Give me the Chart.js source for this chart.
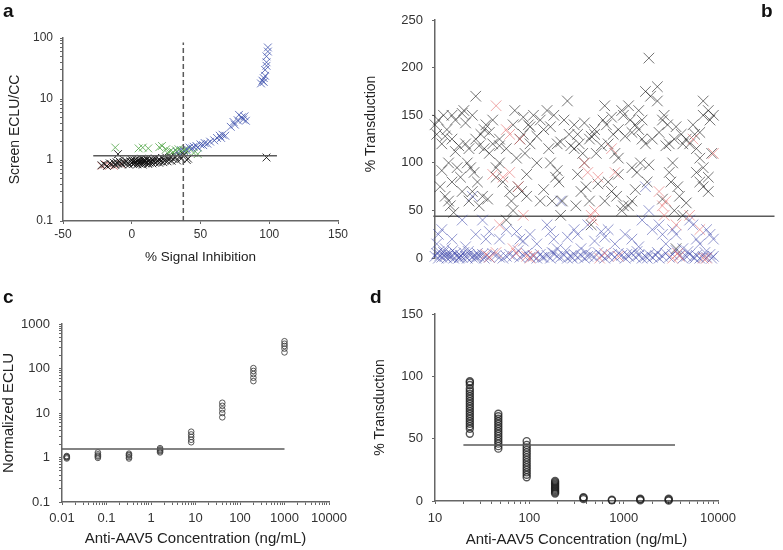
<!DOCTYPE html>
<html>
<head>
<meta charset="utf-8">
<script src="https://cdn.jsdelivr.net/npm/chart.js@4.4.1/dist/chart.umd.min.js"></script>
<style>
  body { margin: 0; background: #fff; }
  #wrap { position: relative; width: 783px; height: 550px; overflow: hidden; background: #fff; font-family: "Liberation Sans", Arial, sans-serif; }
  canvas { position: absolute; }
  .lbl { position: absolute; font-weight: bold; font-size: 19px; color: #111; line-height: 1; }
</style>
</head>
<body>
<div id="wrap">
  <canvas id="chartA" width="390" height="275" style="left:0;top:0"></canvas>
  <canvas id="chartB" width="433" height="275" style="left:350px;top:0"></canvas>
  <canvas id="chartC" width="365" height="275" style="left:0;top:275px"></canvas>
  <canvas id="chartD" width="418" height="275" style="left:365px;top:275px"></canvas>
  <div class="lbl" style="left:3px;top:1px">a</div>
  <div class="lbl" style="left:761px;top:1px">b</div>
  <div class="lbl" style="left:3px;top:287px">c</div>
  <div class="lbl" style="left:370px;top:287px">d</div>
</div>
<script>
// ---------------- DATA ----------------
// panel a : % signal inhibition vs screen ECLU/CC
const aBlack = [[-22,0.82],[-20,0.85],[-18,0.8],[-16,0.88],[-15,0.85],[-13,0.9],[-12,0.83],[-11,0.92],[-10,0.87],[-10,1.25],
  [-9,0.95],[-8,0.9],[-7,0.85],[-6,0.93],[-5,0.88],[-4,0.96],[-3,0.9],[-2,0.84],[-1,0.95],[0,0.9],[0,1.0],[1,0.86],[1,0.94],
  [2,0.98],[2,0.88],[3,0.92],[3,1.02],[4,0.85],[4,0.95],[5,0.9],[5,1.0],[6,0.93],[6,0.87],[7,0.97],[7,1.05],[8,0.9],[8,0.84],
  [9,0.95],[9,1.0],[10,0.88],[10,0.97],[11,0.92],[11,1.04],[12,0.86],[12,0.95],[13,1.0],[13,0.9],[14,0.94],[15,0.88],[15,1.02],
  [16,0.96],[17,0.9],[17,1.06],[18,0.93],[19,0.98],[20,0.9],[20,1.03],[21,0.95],[22,1.08],[23,0.92],[24,0.98],[25,1.1],[26,0.95],
  [27,1.02],[28,1.12],[29,0.97],[30,1.05],[32,1.1],[33,0.98],[35,1.15],[36,1.05],[38,1.2],[40,1.0],[41,1.05],[98,1.1]];
const aRed = [[-22,0.8],[-19,0.84],[-16,0.82],[-13,0.8],[-8,0.86]];
const aGreen = [[-12,1.6],[5,1.55],[8,1.6],[12,1.55],[20,1.62],[22,1.7],[25,1.5],[26,1.3],[28,1.4],[30,1.35],[32,1.45],
  [34,1.5],[36,1.4],[38,1.45],[40,1.4],[45,1.3],[48,1.25]];
const aBlue = [[33,1.35],[36,1.45],[38,1.4],[40,1.5],[42,1.6],[44,1.55],[45,1.65],[47,1.7],[48,1.6],[50,1.8],[52,1.75],
  [53,1.9],[55,1.85],[57,2.0],[60,2.1],[62,2.3],[64,2.5],[65,2.3],[66,2.6],[68,2.5],[72,3.5],[74,4.2],[75,3.8],[77,4.5],
  [78,5.5],[80,5.0],[81,4.6],[82,5.2],[83,4.4],[94,18],[95,20],[96,22],[96,19],[97,24],[97,30],[98,35],[98,40],[98,50],
  [99,60],[99,70]];
const aCutX = [-28, 105.6];
const aCutY = [1.17, 1.17];
const aInhibX = [37.5, 37.5];
const aInhibY = [0.1, 84];

// panel b : % transduction per sample (x = sample order)
const bBlack = [[0,140],[0.5,130],[1,145],[1.5,75],[2,120],[2.5,150],[3,65],[3.5,135],[4,60],[4,100],[4.5,55],[5,150],
  [5,125],[5.5,48],[6,145],[6.5,95],[7,118],[7.5,85],[8,152],[8,70],[8.5,155],[9,120],[9.5,100],[10,115],[10,60],[10.5,95],
  [11,150],[11.5,90],[12,125],[12,170],[12.5,80],[13,55],[13.5,130],[14,65],[14.5,135],[14.5,115],[15,140],[15.5,62],[16,110],
  [17,145],[17,120],[18,85],[19,118],[19,100],[20,80],[21,115],[21,40],[22,70],[22.5,60],[23,50],[23.5,155],[24,105],
  [24.5,75],[25,125],[25.5,70],[26,130],[26.5,110],[27,65],[27.5,140],[28,120],[29,150],[30,100],[31,145],[31,60],[32,135],
  [33,155],[33.5,115],[34,100],[34.5,60],[35,150],[35.5,85],[36,120],[36.5,80],[37,45],[37.5,60],[38,145],[39,165],[39.5,130],
  [41,140],[41,115],[41.5,55],[42,130],[42.5,120],[43,70],[43.5,110],[44,100],[44.5,75],[45.5,125],[45.5,60],[46,35],[47,130],
  [47,135],[47.5,110],[49.5,145],[50,160],[50,60],[50.5,140],[51,120],[51,80],[52,70],[52.5,130],[53,110],[53.5,65],[54,135],
  [54,105],[55,155],[55,50],[55.5,150],[55.5,55],[57,160],[57,55],[57.5,145],[58,95],[58,60],[59,140],[59.5,90],[60,135],
  [60,155],[60.5,100],[61,125],[62,120],[62,175],[62.5,80],[63,210],[63.5,170],[65.5,180],[65.5,165],[67,145],[67.5,150],
  [68.5,140],[69,120],[69,90],[69.5,80],[70.5,125],[70.5,50],[71,10],[71.5,75],[72,65],[72.5,130],[73,120],[73,45],[76.5,130],
  [75,120],[77,115],[78,105],[77,90],[78,80],[79,165],[79,75],[80.5,155],[80.5,70],[80.5,85],[81,145],[79,150],[81.5,110],
  [3,128],[6,112],[9,142],[13,118],[16,132],[19,125],[23,140],[26,148],[28,138],[30,128],[34,138],[37,122],[40,118],[44,142],
  [46,128],[49,118],[52,148],[56,128],[58,132],[61,145],[64,125],[66,132],[68,118],[71,138],[74,125],[76,140],[78,132],[82,150],
  [2,92],[5,80],[11,70],[18,95],[27,88],[32,72],[36,92],[42,88],[48,78],[54,88],[59,72],[63,98],[67,62],[70,100],[74,58],[79,95]];
const bRed = [[17,88],[18,160],[19,35],[20,85],[21,135],[22,90],[22,130],[23,10],[24,5],[25,125],[24.5,75],[26,45],[27,2],
  [28,0],[29,3],[15,4],[16,1],[18,6],[44,100],[45,90],[46,45],[46.5,40],[47,50],[48,85],[48.5,0],[52,115],[53,90],[54,2],
  [50,5],[66,70],[67,55],[67.5,45],[68,60],[71,35],[71.5,5],[70,0],[76,125],[78,30],[79,0],[82,110],[80,0],[75,45],[72,2]];
const bBlue = [[0,2],[0.5,5],[1,0],[1.5,3],[2,1],[2.5,6],[3,2],[3.5,0],[4,4],[4.5,1],[5,3],[5.5,0],[6,5],[6.5,2],[7,0],
  [7.5,3],[8,1],[8.5,6],[9,2],[9.5,0],[10,4],[11,1],[11.5,3],[12,0],[12.5,5],[13,2],[14,4],[14.5,0],[15,2],[16,1],[18,3],
  [20,0],[21,2],[22,4],[25,1],[26,3],[27,5],[28,1],[29,2],[30,0],[31,4],[32,1],[33,3],[34,0],[35,5],[36,2],[37,1],[38,3],
  [39,0],[40,2],[41,4],[42,1],[43,3],[44,0],[45,2],[47,1],[49,3],[50,0],[51,2],[52,4],[53,1],[55,3],[56,0],[57,2],[58,5],
  [59,1],[60,3],[61,0],[62,2],[63,4],[64,1],[65,3],[66,0],[67,2],[68,5],[69,1],[72,3],[73,0],[74,2],[75,4],[76,1],[77,3],
  [78,0],[79,2],[80,1],[81,4],[82,2],
  [0.5,15],[1,25],[2,30],[3,10],[5,20],[8,40],[9,12],[11,65],[12,25],[14,40],[15,20],[16,28],[19,20],[21,30],[24,28],[25,20],
  [26,18],[28,25],[30,15],[33,35],[34,28],[35,20],[36,10],[37,60],[39,22],[41,30],[42,25],[43,10],[45,35],[47,18],[49,28],
  [50,22],[51,30],[53,15],[56,25],[58,20],[60,12],[61,40],[62,75],[63,50],[64,30],[66,35],[67,25],[68,15],[70,30],[71,25],
  [73,10],[75,40],[76,35],[77,20],[78,15],[80,30],[81,25],[82,20],
  [1.2,7],[3.2,4],[5.2,8],[7.3,1],[9.8,7],[12.2,2],[17,5],[19,1],[23,2],[24.5,8],[31.5,1],[34.5,6],[38.5,8],[40.5,0],[44.5,6],
  [46,3],[48,6],[54,5],[56.5,4],[59.5,7],[62.5,0],[65.5,6],[70,4],[71,8],[74.5,7],[76.5,0],[79.5,6],[81.5,0]];
const bCutX = [-0.5, 100];
const bCutY = [44, 44];

// panel c : normalized ECLU vs anti-AAV5 concentration
const cConc = [0.0128, 0.064, 0.32, 1.6, 8, 40, 200, 1000];
const cResp = [[0.95,1.0,1.02,1.05,1.08],[0.98,1.05,1.1,1.18,1.3],[0.95,1.02,1.1,1.15,1.22],[1.3,1.38,1.45,1.52,1.62],
  [2.2,2.5,2.9,3.3,3.8],[8,10,12,14.5,17],[52,62,75,88,102],[230,280,320,360,410]];
const cCutX = [0.01, 1000];
const cCutY = [1.55, 1.55];

// panel d : % transduction vs anti-AAV5 concentration
const dConc = [23.4, 46.9, 93.75, 187.5, 375, 750, 1500, 3000];
const dResp = [[54,58,60,62,64,66,68,70,72,74,76,78,80,82,84,86,88,90,93,95,96],
  [42,44,46,48,50,52,54,56,58,60,62,64,66,68,70],
  [19,21,23,25,27,29,31,33,35,37,39,41,43,45,48],
  [6,7,8,9,10,11,12,13,14,15,16],
  [1.5,2.5,3],[0.5,1],[0.5,1.2,1.8],[0.3,1,1.8]];
const dCutX = [20, 3500];
const dCutY = [45, 45];

// ---------------- HELPERS ----------------
const FONT = '"Liberation Sans", Arial, sans-serif';
const toPts = (arr) => arr.map((p) => ({ x: p[0], y: p[1] }));
const zipPts = (xs, ys) => xs.map((x, i) => ({ x: x, y: ys[i] }));
const colPts = (xs, cols) => xs.flatMap((x, i) => cols[i].map((y) => ({ x: x, y: y })));

function logLabel(v) {
  const l = Math.log10(v);
  return Math.abs(l - Math.round(l)) < 1e-6 ? String(Math.pow(10, Math.round(l))) : '';
}
// drop the 1.5x ticks chart.js adds on log axes
function dropHalfTicks(s) {
  s.ticks = s.ticks.filter((t) => {
    const m = t.value / Math.pow(10, Math.floor(Math.log10(t.value) + 1e-9));
    return Math.abs(m - 1.5) > 1e-6;
  });
}

function axis(size, pad, extra) {
  return Object.assign({
    border: { color: '#666', width: 1.5 },
    grid: { drawOnChartArea: false, drawTicks: true, tickLength: 3, color: '#666', tickWidth: 1 },
    ticks: { color: '#333', padding: pad, font: { family: FONT, size: size }, maxRotation: 0, autoSkip: false }
  }, extra);
}

function crosses(data, color, r) {
  return { data: data, pointStyle: 'crossRot', pointRadius: r, borderColor: color, borderWidth: 1, showLine: false, clip: false };
}
function refLine(data, dash) {
  return { data: data, showLine: true, pointRadius: 0, borderColor: '#5a5a5a', borderWidth: 1.5, borderDash: dash || [], clip: false };
}

const sideTitle = {
  id: 'sideTitle',
  afterDraw(chart, args, opts) {
    if (!opts.text) return;
    const ctx = chart.ctx;
    ctx.save();
    ctx.translate(opts.x, opts.y);
    ctx.rotate(-Math.PI / 2);
    ctx.font = opts.font;
    ctx.fillStyle = '#222';
    ctx.textAlign = 'center';
    ctx.textBaseline = 'middle';
    ctx.fillText(opts.text, 0, 0);
    ctx.restore();
  }
};

const baseOpts = {
  responsive: false,
  animation: false,
  events: [],
  plugins: { legend: { display: false }, tooltip: { enabled: false } }
};

// ---------------- PANEL A ----------------
new Chart(document.getElementById('chartA'), {
  type: 'scatter',
  data: {
    datasets: [
      refLine(zipPts(aCutX, aCutY)),
      refLine(zipPts(aInhibX, aInhibY), [5, 3]),
      crosses(toPts(aBlack), 'rgba(15,15,15,0.85)', 5.5),
      crosses(toPts(aRed), 'rgba(210,100,100,0.75)', 5.5),
      crosses(toPts(aGreen), 'rgba(80,165,70,0.8)', 5.5),
      crosses(toPts(aBlue), 'rgba(55,75,170,0.75)', 5.5)
    ]
  },
  options: Object.assign({}, baseOpts, {
    layout: { padding: { left: 0, top: 38, right: 52, bottom: 0 } },
    scales: {
      x: axis(12, 3, {
        type: 'linear', min: -50, max: 150,
        ticks: { color: '#333', padding: 3, font: { family: FONT, size: 12 }, stepSize: 50, maxRotation: 0 },
        title: { display: true, text: '% Signal Inhibition', color: '#222', font: { family: FONT, size: 13.5 }, padding: { top: 0, bottom: 10 } },
        afterFit: (s) => { s.height = 54; }
      }),
      y: axis(12, 7, {
        type: 'logarithmic', min: 0.1, max: 100,
        ticks: { color: '#333', padding: 7, font: { family: FONT, size: 12 }, autoSkip: false, callback: logLabel },
        afterBuildTicks: dropHalfTicks,
        title: { display: true, text: 'Screen ECLU/CC', color: '#222', font: { family: FONT, size: 14 }, padding: { top: 7, bottom: 0 } },
        afterFit: (s) => { s.width = 63; }
      })
    }
  })
});

// ---------------- PANEL B ----------------
new Chart(document.getElementById('chartB'), {
  type: 'scatter',
  plugins: [sideTitle],
  data: {
    datasets: [
      crosses(toPts(bRed), 'rgba(230,110,110,0.6)', 7.5),
      crosses(toPts(bBlack), 'rgba(25,25,25,0.6)', 7.5),
      crosses(toPts(bBlue), 'rgba(60,70,170,0.55)', 7.5),
      refLine(zipPts(bCutX, bCutY))
    ]
  },
  options: Object.assign({}, baseOpts, {
    plugins: {
      legend: { display: false }, tooltip: { enabled: false },
      sideTitle: { text: '% Transduction', x: 21, y: 124, font: '14px ' + FONT }
    },
    layout: { padding: { left: 0, top: 20, right: 0, bottom: 9 } },
    scales: {
      x: { type: 'linear', min: 0, max: 100, display: false },
      y: axis(13, 9, {
        type: 'linear', min: 0, max: 250,
        ticks: { color: '#333', padding: 9, font: { family: FONT, size: 13 }, stepSize: 50 },
        afterFit: (s) => { s.width = 85; }
      })
    }
  })
});

// ---------------- PANEL C ----------------
new Chart(document.getElementById('chartC'), {
  type: 'scatter',
  data: {
    datasets: [
      refLine(zipPts(cCutX, cCutY)),
      { data: colPts(cConc, cResp), pointStyle: 'circle', pointRadius: 2.8, borderColor: 'rgba(60,60,60,0.85)',
        backgroundColor: 'rgba(0,0,0,0)', borderWidth: 1, showLine: false, clip: false }
    ]
  },
  options: Object.assign({}, baseOpts, {
    layout: { padding: { left: 0, top: 49, right: 36, bottom: 0 } },
    scales: {
      x: axis(13, 6, {
        type: 'logarithmic', min: 0.01, max: 10000,
        ticks: { color: '#333', padding: 6, font: { family: FONT, size: 13 }, autoSkip: false, maxRotation: 0, callback: logLabel },
        afterBuildTicks: dropHalfTicks,
        title: { display: true, text: 'Anti-AAV5 Concentration (ng/mL)', color: '#222', font: { family: FONT, size: 15 }, padding: { top: 0, bottom: 2 } },
        afterFit: (s) => { s.height = 48; }
      }),
      y: axis(13, 9, {
        type: 'logarithmic', min: 0.1, max: 1000,
        ticks: { color: '#333', padding: 9, font: { family: FONT, size: 13 }, autoSkip: false, callback: logLabel },
        afterBuildTicks: dropHalfTicks,
        title: { display: true, text: 'Normalized ECLU', color: '#222', font: { family: FONT, size: 15 }, padding: { top: 0, bottom: 0 } },
        afterFit: (s) => { s.width = 62; }
      })
    }
  })
});

// ---------------- PANEL D ----------------
new Chart(document.getElementById('chartD'), {
  type: 'scatter',
  data: {
    datasets: [
      refLine(zipPts(dCutX, dCutY)),
      { data: colPts(dConc, dResp), pointStyle: 'circle', pointRadius: 3.5, borderColor: 'rgba(30,30,30,0.75)',
        backgroundColor: 'rgba(0,0,0,0)', borderWidth: 1.4, showLine: false, clip: false }
    ]
  },
  options: Object.assign({}, baseOpts, {
    layout: { padding: { left: 0, top: 39, right: 65, bottom: 0 } },
    scales: {
      x: axis(13, 7, {
        type: 'logarithmic', min: 10, max: 10000,
        ticks: { color: '#333', padding: 7, font: { family: FONT, size: 13 }, autoSkip: false, maxRotation: 0, callback: logLabel },
        afterBuildTicks: dropHalfTicks,
        title: { display: true, text: 'Anti-AAV5 Concentration (ng/mL)', color: '#222', font: { family: FONT, size: 15 }, padding: { top: 0, bottom: 1 } },
        afterFit: (s) => { s.height = 49; }
      }),
      y: axis(13, 9, {
        type: 'linear', min: 0, max: 150,
        ticks: { color: '#333', padding: 9, font: { family: FONT, size: 13 }, stepSize: 50 },
        title: { display: true, text: '% Transduction', color: '#222', font: { family: FONT, size: 14 }, padding: { top: 7, bottom: 0 } },
        afterFit: (s) => { s.width = 70; }
      })
    }
  })
});
</script>
</body>
</html>
